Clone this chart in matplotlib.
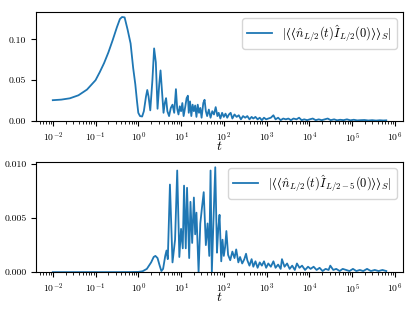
import matplotlib
matplotlib.use('Agg')
import matplotlib.pyplot as plt
import numpy as np

plt.rcParams['mathtext.fontset'] = 'cm'
plt.rcParams['font.family'] = 'serif'
plt.rcParams['font.serif'] = ['cmr10', 'DejaVu Serif']
plt.rcParams['axes.formatter.use_mathtext'] = True

# top panel: log10(t) and |<<n I>>_S| for site L/2
logt_a = [-2.0, -1.8, -1.6, -1.4, -1.2, -1.0, -0.9, -0.8, -0.7, -0.6, -0.5, -0.43, -0.38,
          -0.32, -0.25, -0.18, -0.12, -0.07, -0.03, 0.0, 0.04, 0.09, 0.13, 0.18, 0.21, 0.24,
          0.28, 0.33, 0.37, 0.41, 0.45, 0.49, 0.52, 0.56, 0.59, 0.62, 0.65, 0.68, 0.72, 0.76,
          0.80, 0.84, 0.88, 0.91, 0.94, 0.97, 1.00, 1.03, 1.06, 1.10, 1.13, 1.16, 1.18, 1.21,
          1.24, 1.27, 1.30, 1.33, 1.36, 1.39, 1.42, 1.45, 1.48, 1.52, 1.55, 1.58, 1.61, 1.65,
          1.69, 1.73, 1.77, 1.81, 1.85, 1.88, 1.92, 1.96, 2.00, 2.04, 2.08, 2.12, 2.16, 2.20,
          2.25, 2.30, 2.35, 2.40, 2.45, 2.50, 2.55, 2.60, 2.65, 2.69, 2.74, 2.79, 2.84, 2.89,
          2.94, 2.99, 3.04, 3.10, 3.16, 3.21, 3.27, 3.33, 3.39, 3.45, 3.51, 3.57, 3.63, 3.70,
          3.76, 3.82, 3.88, 3.95, 4.01, 4.08, 4.15, 4.22, 4.29, 4.36, 4.43, 4.50, 4.58, 4.65,
          4.72, 4.80, 4.88, 4.96, 5.04, 5.12, 5.20, 5.29, 5.38, 5.47, 5.56, 5.65, 5.73, 5.80]
val_a = [0.0255, 0.0262, 0.0278, 0.0315, 0.0385, 0.050, 0.060, 0.071, 0.084, 0.099, 0.115,
         0.125, 0.1275, 0.127, 0.112, 0.095, 0.065, 0.045, 0.024, 0.010, 0.006, 0.0055,
         0.012, 0.030, 0.038, 0.030, 0.013, 0.050, 0.089, 0.072, 0.015, 0.045, 0.062, 0.032,
         0.010, 0.022, 0.028, 0.012, 0.006, 0.016, 0.020, 0.010, 0.039, 0.015, 0.008, 0.018,
         0.012, 0.022, 0.006, 0.018, 0.028, 0.031, 0.010, 0.024, 0.006, 0.020, 0.012, 0.019,
         0.005, 0.020, 0.010, 0.016, 0.004, 0.022, 0.026, 0.012, 0.006, 0.014, 0.004, 0.012,
         0.008, 0.017, 0.006, 0.010, 0.003, 0.010, 0.005, 0.009, 0.004, 0.008, 0.010, 0.003,
         0.008, 0.005, 0.007, 0.002, 0.006, 0.004, 0.006, 0.002, 0.005, 0.003, 0.005, 0.002,
         0.004, 0.001, 0.004, 0.002, 0.003, 0.004, 0.007, 0.002, 0.004, 0.001, 0.003, 0.002,
         0.003, 0.001, 0.003, 0.002, 0.004, 0.001, 0.002, 0.001, 0.002, 0.003, 0.001, 0.002,
         0.001, 0.002, 0.003, 0.001, 0.002, 0.0008, 0.0015, 0.001, 0.002, 0.0008, 0.0015,
         0.0007, 0.001, 0.0012, 0.0006, 0.001, 0.0005, 0.0009, 0.0006, 0.0008]

# bottom panel: site L/2-5
logt_b = [-2.0, -1.5, -1.0, -0.5, -0.2, 0.0, 0.1, 0.2, 0.3, 0.36, 0.40, 0.45, 0.50, 0.54,
          0.58, 0.63, 0.66, 0.69, 0.74, 0.80, 0.86, 0.91, 0.96, 1.00, 1.04, 1.07, 1.11, 1.14,
          1.19, 1.22, 1.26, 1.30, 1.33, 1.36, 1.41, 1.45, 1.49, 1.53, 1.58, 1.62, 1.66, 1.69,
          1.72, 1.76, 1.80, 1.84, 1.87, 1.90, 1.94, 1.97, 2.00, 2.03, 2.06, 2.10, 2.15, 2.20,
          2.25, 2.29, 2.34, 2.38, 2.43, 2.48, 2.52, 2.55, 2.60, 2.65, 2.69, 2.74, 2.79, 2.84,
          2.89, 2.94, 2.99, 3.04, 3.10, 3.16, 3.21, 3.27, 3.33, 3.36, 3.42, 3.48, 3.54, 3.60,
          3.66, 3.71, 3.77, 3.83, 3.90, 3.97, 4.03, 4.10, 4.17, 4.24, 4.31, 4.38, 4.45, 4.49,
          4.56, 4.63, 4.71, 4.78, 4.86, 4.94, 5.02, 5.10, 5.18, 5.26, 5.35, 5.44, 5.53, 5.62,
          5.71, 5.80]
val_b = [0.0, 0.0, 0.0, 0.0, 0.000005, 0.00002, 0.00008, 0.0003, 0.0009, 0.0014, 0.0015,
         0.0013, 0.0006, 0.0001, 0.0003, 0.0015, 0.0020, 0.0012, 0.0081, 0.0009, 0.0030,
         0.0094, 0.0014, 0.0040, 0.0022, 0.0080, 0.0022, 0.0078, 0.0013, 0.0065, 0.0027,
         0.0069, 0.0035, 0.0055, 0.0000, 0.0045, 0.0060, 0.0074, 0.0025, 0.0045, 0.0015,
         0.0094, 0.0000, 0.0050, 0.0097, 0.0018, 0.0040, 0.0053, 0.0010, 0.0030, 0.0015,
         0.0023, 0.0038, 0.0016, 0.0011, 0.0019, 0.0013, 0.0021, 0.0009, 0.0014, 0.0008,
         0.0012, 0.0017, 0.0011, 0.0006, 0.0012, 0.0005, 0.0010, 0.0004, 0.0009, 0.0006,
         0.0010, 0.0004, 0.0008, 0.0005, 0.0010, 0.0004, 0.0007, 0.0003, 0.0012, 0.0005,
         0.0008, 0.0003, 0.0006, 0.0002, 0.0008, 0.0004, 0.0006, 0.0002, 0.0005, 0.0003,
         0.0005, 0.0002, 0.0004, 0.0001, 0.0003, 0.0002, 0.0006, 0.0002, 0.0003, 0.0001,
         0.0003, 0.0002, 0.0001, 0.0003, 0.0001, 0.0002, 0.0001, 0.0003, 0.0001, 0.0002,
         0.0001, 0.0002, 0.0001]

label_a = '$|\u27e8\u27e8\\hat{n}_{L/2}(t)\\hat{I}_{L/2}(0)\u27e9\u27e9_S|$'
label_b = '$|\u27e8\u27e8\\hat{n}_{L/2}(t)\\hat{I}_{L/2-5}(0)\u27e9\u27e9_S|$'

fig = plt.figure(figsize=(4.15, 3.11), dpi=100)
ax1 = fig.add_axes([0.087, 0.611, 0.884, 0.351])
ax2 = fig.add_axes([0.087, 0.125, 0.884, 0.354])

for ax, lt, v, lab in [(ax1, logt_a, val_a, label_a), (ax2, logt_b, val_b, label_b)]:
    ax.plot(10**np.array(lt), v, color='#1f77b4', lw=1.3, label=lab)
    ax.set_xscale('log')
    ax.set_ylim(bottom=0)
    ax.set_xlabel(r'$t$', fontsize=10, labelpad=-3)
    ax.tick_params(labelsize=7)
    ax.legend(loc='upper right', fontsize=9)

ax1.set_yticks([0.0, 0.05, 0.10])
ax1.set_yticklabels(['0.00', '0.05', '0.10'])
ax2.set_yticks([0.0, 0.005, 0.010])
ax2.set_yticklabels(['0.000', '0.005', '0.010'])

plt.savefig('out.png', dpi=100)
